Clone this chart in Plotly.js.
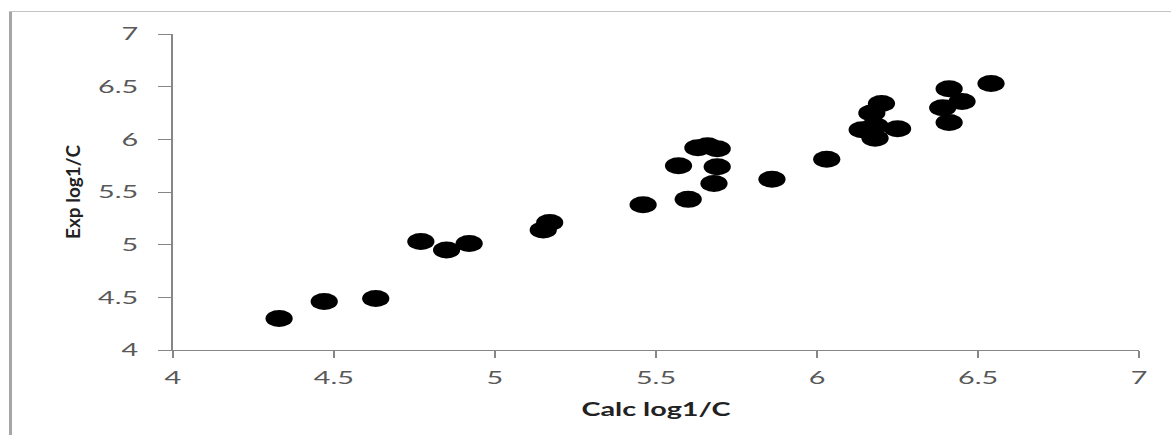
<!DOCTYPE html>
<html>
<head>
<meta charset="utf-8">
<script src="https://cdn.plot.ly/plotly-3.0.1.min.js"></script>
<style>
  html, body { margin: 0; padding: 0; background: #fff; overflow: hidden; }
  #wrap { position: relative; width: 1171px; height: 435px; overflow: hidden; }
  #chart { position: absolute; left: 0; top: 0; width: 732px; height: 435px;
           transform: scaleX(1.6); transform-origin: 0 0; }
  #bl { position: absolute; left: 9px; top: 12px; width: 3px; height: 423px; background: #a6a6a6; }
  #bt { position: absolute; left: 9px; top: 11px; width: 1162px; height: 1px; background: #c4c4c4; }
</style>
</head>
<body>
<div id="wrap">
  <div id="chart"></div>
  <div id="bl"></div>
  <div id="bt"></div>
</div>
<script>
const calcLog = [4.33, 4.47, 4.63, 4.77, 4.85, 4.92, 5.15, 5.17, 5.46, 5.60, 5.57, 5.68, 5.69, 5.63, 5.66, 5.69, 5.86, 6.03, 6.14, 6.18, 6.18, 6.17, 6.20, 6.25, 6.39, 6.41, 6.45, 6.41, 6.54];
const expLog  = [4.30, 4.46, 4.49, 5.03, 4.95, 5.01, 5.14, 5.21, 5.38, 5.43, 5.75, 5.58, 5.74, 5.92, 5.94, 5.91, 5.62, 5.81, 6.09, 6.01, 6.13, 6.25, 6.34, 6.10, 6.30, 6.48, 6.36, 6.16, 6.53];
const tickVals = [4, 4.5, 5, 5.5, 6, 6.5, 7];
const tickText = ['4', '4.5', '5', '5.5', '6', '6.5', '7'];
const xTitle = 'Calc log1/C';
const yTitle = 'Exp log1/C';

const trace = {
  x: calcLog, y: expLog, type: 'scatter', mode: 'markers',
  marker: { color: '#000000', size: 17, symbol: 'circle', line: { width: 0 } },
  hoverinfo: 'x+y'
};

const axisCommon = {
  range: [4, 7], tickvals: tickVals, ticktext: tickText,
  showgrid: false, zeroline: false, showline: true,
  linecolor: '#868686', linewidth: 1,
  ticks: 'outside', tickcolor: '#868686', tickwidth: 1,
  tickfont: { family: 'Lato, sans-serif', size: 18, color: '#595959' },
  fixedrange: true
};

const layout = {
  width: 732, height: 435,
  margin: { l: 107.5, r: 19.5, t: 34, b: 85 },
  paper_bgcolor: 'rgba(0,0,0,0)', plot_bgcolor: 'rgba(0,0,0,0)',
  showlegend: false,
  xaxis: Object.assign({}, axisCommon, {
    ticklen: 7, ticklabelstandoff: 4,
    title: { text: xTitle, font: { family: 'Lato, sans-serif', size: 18, color: '#222222', weight: 'bold' }, standoff: 16 }
  }),
  yaxis: Object.assign({}, axisCommon, {
    ticklen: 8, ticklabelstandoff: 9,
    title: { text: yTitle, font: { family: 'Lato, sans-serif', size: 19, color: '#222222', weight: 'bold' }, standoff: 5 }
  })
};

const gd = document.getElementById('chart');
Plotly.newPlot(gd, [trace], layout, { staticPlot: true, displayModeBar: false }).then(function () {
  // undo the horizontal stretch for the rotated y title so its glyphs keep normal proportions
  const t = gd.querySelector('.ytitle');
  if (t) {
    const x = parseFloat(t.getAttribute('x')), y = parseFloat(t.getAttribute('y'));
    const tr = t.getAttribute('transform') || '';
    t.setAttribute('transform', 'translate(' + x + ',' + y + ') scale(0.625,1) translate(' + (-x) + ',' + (-y) + ') ' + tr);
  }
});
</script>
</body>
</html>
